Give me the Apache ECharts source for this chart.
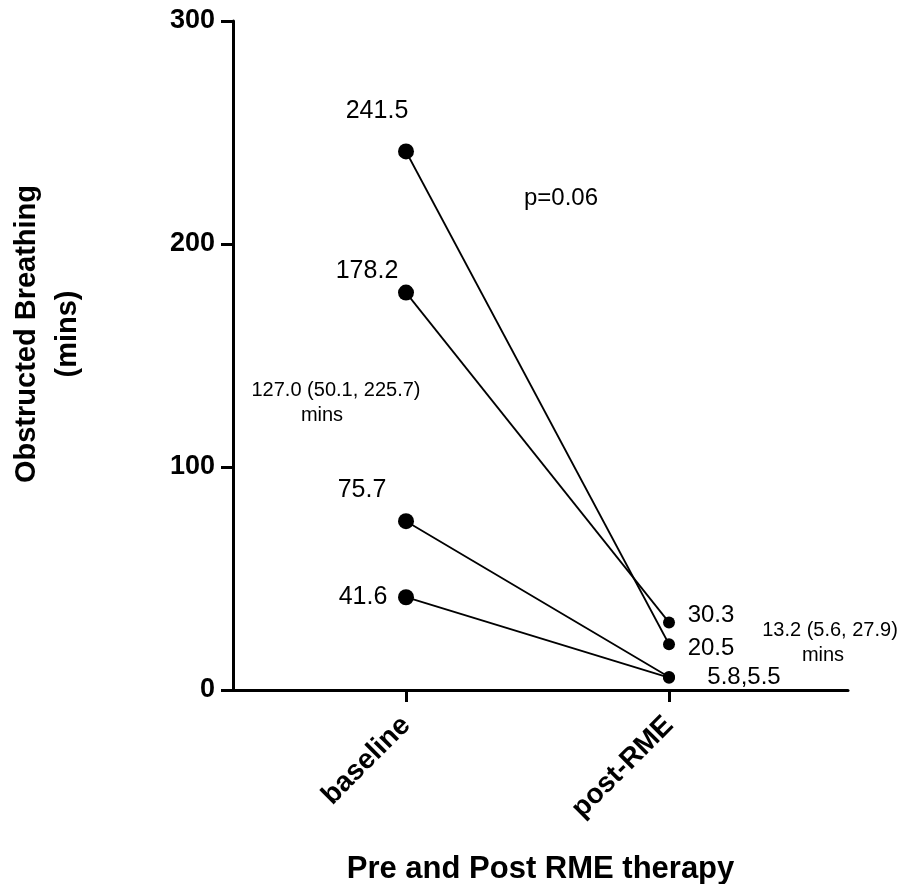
<!DOCTYPE html>
<html>
<head>
<meta charset="utf-8">
<title>Obstructed Breathing pre and post RME</title>
<script src="https://cdn.jsdelivr.net/npm/echarts@6/dist/echarts.min.js"></script>
<style>
  html, body { margin: 0; padding: 0; background: #fff; }
  #chart { width: 904px; height: 884px; }
</style>
</head>
<body>
<div id="chart"></div>
<script>
// Time points on the x axis
const groups = ['baseline', 'post-RME'];
// Obstructed breathing (mins) per subject, paired by index
const baselineMins = [241.5, 178.2, 75.7, 41.6];
const postMins = [20.5, 30.3, 5.8, 5.5];
// Label text for each point (two overlapping post values share one label)
const baselineLabels = ['241.5', '178.2', '75.7', '41.6'];
const postLabels = ['20.5', '30.3', '5.8,5.5', ''];
// Y axis ticks
const yTicks = [0, 100, 200, 300];

// Label offsets from each point centre (px)
const baselineLabelOffset = [[-29, -40], [-39, -22], [-44, -31], [-43, 0]];
const postLabelOffset = [[42, 4], [42, -7], [75, 0], [0, 0]];

const FONT = "'Liberation Sans', Arial, sans-serif";

const chart = echarts.init(document.getElementById('chart'), null, { renderer: 'canvas' });

const series = baselineMins.map((b, i) => ({
  type: 'line',
  data: [
    {
      value: [0, b],
      symbolSize: 16,
      label: {
        show: true,
        formatter: baselineLabels[i],
        position: 'inside',
        align: 'center',
        verticalAlign: 'middle',
        offset: baselineLabelOffset[i],
        fontSize: 25,
        color: '#000',
        fontFamily: FONT
      }
    },
    {
      value: [1, postMins[i]],
      symbolSize: 12,
      label: {
        show: postLabels[i] !== '',
        formatter: postLabels[i],
        position: 'inside',
        align: 'center',
        verticalAlign: 'middle',
        offset: postLabelOffset[i],
        fontSize: 24,
        color: '#000',
        fontFamily: FONT
      }
    }
  ],
  symbol: 'circle',
  lineStyle: { color: '#000', width: 1.8 },
  itemStyle: { color: '#000' },
  emphasis: { disabled: true },
  animation: false,
  z: 3
}));

const option = {
  backgroundColor: '#fff',
  animation: false,
  grid: { left: 233, right: 56, top: 21, bottom: 194, containLabel: false, outerBoundsMode: 'none' },
  xAxis: {
    type: 'value',
    min: -0.6578,
    max: 1.6806,
    name: 'Pre and Post RME therapy',
    nameLocation: 'middle',
    nameGap: 164,
    nameTextStyle: { fontSize: 31, fontWeight: 'bold', color: '#000', fontFamily: FONT },
    axisLine: { show: true, onZero: false, lineStyle: { color: '#000', width: 3 } },
    axisTick: { show: true, length: 12, customValues: [0, 1], lineStyle: { color: '#000', width: 3 } },
    axisLabel: {
      show: true,
      customValues: [0, 1],
      formatter: v => groups[Math.round(v)],
      rotate: 45,
      margin: 31,
      fontSize: 28,
      fontWeight: 'bold',
      color: '#000',
      fontFamily: FONT
    },
    splitLine: { show: false }
  },
  yAxis: {
    type: 'value',
    min: yTicks[0],
    max: yTicks[yTicks.length - 1],
    interval: 100,
    axisLine: { show: true, onZero: false, lineStyle: { color: '#000', width: 3 } },
    axisTick: { show: true, length: 12, lineStyle: { color: '#000', width: 3 } },
    axisLabel: {
      margin: 18,
      fontSize: 27,
      fontWeight: 'bold',
      color: '#000',
      fontFamily: FONT
    },
    splitLine: { show: false }
  },
  graphic: [
    {
      type: 'text',
      x: 47, y: 334,
      rotation: Math.PI / 2,
      style: {
        text: 'Obstructed Breathing\n(mins)',
        font: "bold 29px " + FONT,
        fill: '#000',
        align: 'center',
        verticalAlign: 'middle',
        lineHeight: 41
      }
    },
    {
      type: 'text', x: 561, y: 198,
      style: { text: 'p=0.06', font: '24px ' + FONT, fill: '#000', align: 'center', verticalAlign: 'middle' }
    },
    {
      type: 'text', x: 336, y: 390,
      style: { text: '127.0 (50.1, 225.7)', font: '20px ' + FONT, fill: '#000', align: 'center', verticalAlign: 'middle' }
    },
    {
      type: 'text', x: 322, y: 415,
      style: { text: 'mins', font: '20px ' + FONT, fill: '#000', align: 'center', verticalAlign: 'middle' }
    },
    {
      type: 'text', x: 830, y: 630,
      style: { text: '13.2 (5.6, 27.9)', font: '20px ' + FONT, fill: '#000', align: 'center', verticalAlign: 'middle' }
    },
    {
      type: 'text', x: 823, y: 655,
      style: { text: 'mins', font: '20px ' + FONT, fill: '#000', align: 'center', verticalAlign: 'middle' }
    }
  ],
  series: series
};

chart.setOption(option);
</script>
</body>
</html>
